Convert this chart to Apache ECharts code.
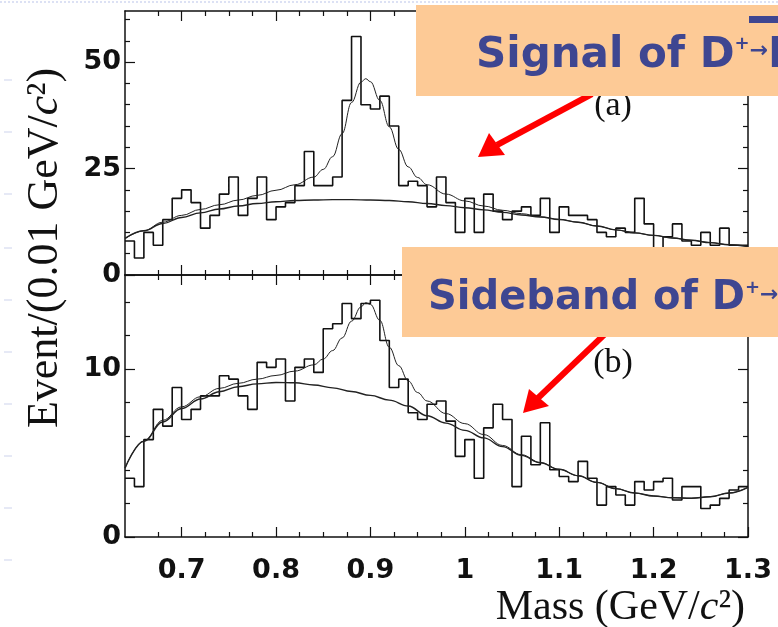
<!DOCTYPE html>
<html>
<head>
<meta charset="utf-8">
<script src="https://cdn.jsdelivr.net/npm/echarts@6/dist/echarts.min.js"></script>
<style>
  html, body { margin: 0; padding: 0; background: #fff; }
  #chart { width: 778px; height: 627px; }
</style>
</head>
<body>
<div id="chart"></div>
<script>
// mass bins of 0.01 GeV/c^2 from 0.64 to 1.30
const massMin = 0.64
const massMax = 1.30
const binWidth = 0.01

// (a) signal region, events per bin
const signalCounts = [
  8, 4, 10, 7, 13, 18, 20, 17, 11, 14,
  19, 23, 14, 18, 23, 13, 16, 17, 21, 29,
  21, 21, 23, 41, 56, 40, 39, 42, 35, 21,
  22, 21, 16, 23, 17, 10, 18, 10, 19, 15,
  13, 15, 16, 14, 18, 10, 16, 14, 14, 13,
  10, 9, 11, 10, 18, 12, 5, 9, 12, 8,
  7, 10, 7, 11, 7, 7
]

// (b) sideband, scaled events per bin
const sidebandCounts = [
  3.5, 3.0, 5.8, 7.6, 6.6, 8.9, 7.0, 7.6, 8.4, 8.4,
  9.6, 9.4, 8.4, 7.6, 10.4, 10.1, 10.6, 8.1, 10.1, 10.6,
  9.8, 12.4, 12.7, 13.9, 13.0, 13.9, 14.1, 11.7, 8.9, 9.4,
  7.4, 7.0, 7.9, 8.1, 6.9, 4.8, 5.8, 3.5, 6.5, 7.9,
  7.0, 3.0, 6.0, 4.3, 6.8, 4.0, 3.6, 3.3, 4.5, 3.5,
  1.9, 3.0, 2.5, 1.9, 3.3, 2.8, 3.3, 3.5, 2.2, 3.0,
  3.0, 1.7, 1.9, 2.3, 2.8, 3.0
]

// fit curves: [mass, value]
const signalFitTotal = [
  [0.64, 8.5], [0.66, 10.4], [0.68, 12.4], [0.70, 14.0], [0.72, 15.4], [0.74, 16.5],
  [0.76, 17.6], [0.78, 18.7], [0.80, 19.9], [0.82, 21.2], [0.84, 23.0], [0.85, 24.8],
  [0.86, 27.8], [0.87, 33.2], [0.88, 40.5], [0.89, 45.3], [0.895, 46.1], [0.90, 45.4],
  [0.91, 41.0], [0.92, 34.8], [0.93, 29.5], [0.94, 25.4], [0.95, 22.9], [0.96, 21.2],
  [0.98, 19.0], [1.00, 17.4], [1.02, 16.2], [1.04, 15.2], [1.06, 14.4], [1.08, 13.7],
  [1.10, 13.1], [1.12, 12.4], [1.14, 11.5], [1.16, 10.6], [1.18, 9.9], [1.20, 9.3],
  [1.22, 8.7], [1.24, 8.15], [1.26, 7.6], [1.28, 7.1], [1.30, 6.7]
]
const signalFitBkg = [
  [0.64, 8.6], [0.66, 10.4], [0.68, 12.1], [0.70, 13.5], [0.72, 14.6], [0.74, 15.5],
  [0.76, 16.2], [0.78, 16.8], [0.80, 17.2], [0.82, 17.5], [0.84, 17.6], [0.86, 17.7],
  [0.88, 17.7], [0.90, 17.6], [0.92, 17.5], [0.94, 17.2], [0.96, 16.8], [0.98, 16.3],
  [1.00, 15.8], [1.02, 15.3], [1.04, 14.7], [1.06, 14.1], [1.08, 13.6], [1.10, 13.0],
  [1.12, 12.4], [1.14, 11.5], [1.16, 10.6], [1.18, 9.9], [1.20, 9.3], [1.22, 8.7],
  [1.24, 8.15], [1.26, 7.6], [1.28, 7.1], [1.30, 6.7]
]
const sidebandFitTotal = [
  [0.64, 4.1], [0.66, 5.7], [0.68, 6.95], [0.70, 7.75], [0.72, 8.35], [0.74, 8.85],
  [0.76, 9.15], [0.78, 9.4], [0.80, 9.62], [0.82, 9.88], [0.84, 10.25], [0.85, 10.6],
  [0.86, 11.1], [0.87, 11.85], [0.88, 12.85], [0.89, 13.7], [0.895, 13.95], [0.90, 13.85],
  [0.91, 12.9], [0.92, 11.3], [0.93, 10.2], [0.94, 9.3], [0.95, 8.6], [0.96, 8.1],
  [0.98, 7.35], [1.00, 6.75], [1.02, 6.1], [1.04, 5.45], [1.06, 4.9], [1.08, 4.43],
  [1.10, 4.03], [1.12, 3.65], [1.14, 3.25], [1.16, 2.88], [1.18, 2.62], [1.20, 2.44],
  [1.22, 2.34], [1.24, 2.31], [1.26, 2.4], [1.28, 2.62], [1.30, 2.96]
]
const sidebandFitBkg = [
  [0.64, 4.1], [0.66, 5.7], [0.68, 6.85], [0.70, 7.65], [0.72, 8.22], [0.74, 8.65],
  [0.76, 8.95], [0.78, 9.12], [0.80, 9.2], [0.82, 9.18], [0.84, 9.05], [0.86, 8.88],
  [0.88, 8.66], [0.90, 8.43], [0.92, 8.15], [0.94, 7.8], [0.96, 7.22], [0.98, 6.78],
  [1.00, 6.35], [1.02, 5.9], [1.04, 5.38], [1.06, 4.86], [1.08, 4.42], [1.10, 4.03],
  [1.12, 3.65], [1.14, 3.25], [1.16, 2.88], [1.18, 2.62], [1.20, 2.44], [1.22, 2.34],
  [1.24, 2.31], [1.26, 2.4], [1.28, 2.62], [1.30, 2.96]
]

const xMajorTicks = [0.7, 0.8, 0.9, 1.0, 1.1, 1.2, 1.3]
const xMinorTicks = [0.675, 0.725, 0.75, 0.775, 0.825, 0.85, 0.875, 0.925, 0.95, 0.975,
  1.025, 1.05, 1.075, 1.125, 1.15, 1.175, 1.225, 1.25, 1.275]
const topMax = 62
const topMajorTicks = [0, 25, 50]
const topMinorTicks = [5, 10, 15, 20, 30, 35, 40, 45, 55, 60]
const bottomMax = 15.6
const bottomMajorTicks = [0, 10]
const bottomMinorTicks = [2, 4, 6, 8, 12, 14]

const ink = '#111'
const tickFont = { fontFamily: 'DejaVu Sans', fontSize: 27, fontWeight: 'bold', color: '#111' }

function histPoints(counts) {
  const pts = counts.map((v, i) => [+(massMin + i * binWidth).toFixed(2), v])
  pts.push([massMax, counts[counts.length - 1]])
  return pts
}

function xAx(grid, position, ticks, len, labels) {
  return {
    type: 'value', gridIndex: grid, position, min: massMin, max: massMax,
    axisLine: { show: len > 6, onZero: false, lineStyle: { color: ink, width: 1.5 } },
    axisTick: { show: true, inside: true, length: len, customValues: ticks, lineStyle: { color: ink, width: 1.2 } },
    axisLabel: labels ? Object.assign({ show: true, customValues: labels, margin: 20 }, tickFont) : { show: false },
    splitLine: { show: false },
  }
}

function yAx(grid, position, max, ticks, len, labels) {
  return {
    type: 'value', gridIndex: grid, position, min: 0, max,
    axisLine: { show: len > 6, onZero: false, lineStyle: { color: ink, width: 1.5 } },
    axisTick: { show: true, inside: true, length: len, customValues: ticks, lineStyle: { color: ink, width: 1.2 } },
    axisLabel: labels ? Object.assign({ show: true, customValues: labels, margin: 4 }, tickFont) : { show: false },
    splitLine: { show: false },
  }
}

function curve(data, xi, yi, width) {
  return {
    type: 'line', xAxisIndex: xi, yAxisIndex: yi, data, symbol: 'none',
    smooth: 0.4, smoothMonotone: 'x', silent: true,
    lineStyle: { color: '#222', width },
  }
}

function hist(counts, xi, yi) {
  return {
    type: 'line', xAxisIndex: xi, yAxisIndex: yi, data: histPoints(counts), step: 'end',
    symbol: 'none', silent: true, lineStyle: { color: ink, width: 1.6 },
  }
}

const serif = 'Liberation Serif'
const boxBlue = '#3E4691'
const peach = '#FDCA96'

function boxRich(size) {
  return {
    a: { fontFamily: 'DejaVu Sans', fontWeight: 'bold', fontSize: size, fill: boxBlue },
    s: { fontFamily: 'DejaVu Sans', fontWeight: 'bold', fontSize: 18, fill: boxBlue, verticalAlign: 'top' },
    r: { fontFamily: 'DejaVu Sans', fontWeight: 'bold', fontSize: 22, fill: boxBlue, verticalAlign: 'top', padding: [5, 0, 0, 0] },
  }
}

// faint slide-template dashes down the left margin
const marginDashes = [80, 132, 194, 248, 300, 352, 404, 456, 508, 560].map(y => ({
  type: 'line', z: 1, shape: { x1: 4, y1: y, x2: 12, y2: y }, style: { stroke: '#cdd3ec', lineWidth: 1 },
}))

let myChart = echarts.init(document.getElementById('chart'))
myChart.setOption({
  animation: false,
  backgroundColor: '#fff',
  grid: [
    { left: 125, right: 30, top: 11, height: 264 },
    { left: 125, right: 30, top: 275, height: 262 },
  ],
  xAxis: [
    xAx(0, 'bottom', xMajorTicks, 10),
    xAx(0, 'bottom', xMinorTicks, 5),
    xAx(0, 'top', xMajorTicks, 10),
    xAx(0, 'top', xMinorTicks, 5),
    xAx(1, 'bottom', xMajorTicks, 10, xMajorTicks),
    xAx(1, 'bottom', xMinorTicks, 5),
    xAx(1, 'top', xMajorTicks, 10),
    xAx(1, 'top', xMinorTicks, 5),
  ],
  yAxis: [
    yAx(0, 'left', topMax, topMajorTicks, 10, topMajorTicks),
    yAx(0, 'left', topMax, topMinorTicks, 5),
    yAx(0, 'right', topMax, topMajorTicks, 10),
    yAx(0, 'right', topMax, topMinorTicks, 5),
    yAx(1, 'left', bottomMax, bottomMajorTicks, 10, bottomMajorTicks),
    yAx(1, 'left', bottomMax, bottomMinorTicks, 5),
    yAx(1, 'right', bottomMax, bottomMajorTicks, 10),
    yAx(1, 'right', bottomMax, bottomMinorTicks, 5),
  ],
  series: [
    hist(signalCounts, 0, 0),
    curve(signalFitBkg, 0, 0, 1.4),
    curve(signalFitTotal, 0, 0, 1),
    hist(sidebandCounts, 4, 4),
    curve(sidebandFitBkg, 4, 4, 1.4),
    curve(sidebandFitTotal, 4, 4, 1),
  ],
  graphic: marginDashes.concat([
    // faint dotted slide line at the top
    { type: 'line', z: 1, shape: { x1: 0, y1: 2, x2: 778, y2: 2 }, style: { stroke: '#b9c3ea', lineWidth: 1, lineDash: [2, 2] } },
    // axis titles
    {
      type: 'text', x: 45, y: 248, rotation: Math.PI / 2, z: 10,
      style: {
        text: '{n|Event/(0.01 GeV/}{i|c}{n|²)}', align: 'center', verticalAlign: 'middle',
        rich: { n: { fontFamily: serif, fontSize: 44, fill: '#111' }, i: { fontFamily: serif, fontSize: 44, fontStyle: 'italic', fill: '#111' } },
      },
    },
    {
      type: 'text', x: 745, y: 608, z: 10,
      style: {
        text: '{n|Mass (GeV/}{i|c}{n|²)}', align: 'right', verticalAlign: 'middle',
        rich: { n: { fontFamily: serif, fontSize: 42, fill: '#111' }, i: { fontFamily: serif, fontSize: 42, fontStyle: 'italic', fill: '#111' } },
      },
    },
    // panel tags
    { type: 'text', x: 613, y: 106, z: 20, style: { text: '(a)', fontFamily: serif, fontSize: 34, fill: '#111', align: 'center', verticalAlign: 'middle' } },
    { type: 'text', x: 613, y: 363, z: 20, style: { text: '(b)', fontFamily: serif, fontSize: 34, fill: '#111', align: 'center', verticalAlign: 'middle' } },
    // red arrows
    { type: 'line', z: 30, shape: { x1: 592, y1: 94, x2: 497, y2: 145 }, style: { stroke: '#ff0000', lineWidth: 6 } },
    { type: 'polygon', z: 30, shape: { points: [[478, 157], [489, 133], [505, 155]] }, style: { fill: '#ff0000' } },
    { type: 'line', z: 30, shape: { x1: 606, y1: 333, x2: 538, y2: 398 }, style: { stroke: '#ff0000', lineWidth: 6 } },
    { type: 'polygon', z: 30, shape: { points: [[523, 413], [529, 389], [549, 406]] }, style: { fill: '#ff0000' } },
    // callout boxes
    { type: 'rect', z: 40, shape: { x: 416, y: 5, width: 362, height: 91 }, style: { fill: peach } },
    {
      type: 'text', x: 476, y: 56, z: 41,
      style: { text: '{a|Signal of D}{s|+}{r|→}{a|K}', verticalAlign: 'middle', rich: boxRich(42) },
    },
    { type: 'rect', z: 41, shape: { x: 749, y: 16, width: 29, height: 7 }, style: { fill: boxBlue } },
    { type: 'rect', z: 40, shape: { x: 402, y: 247, width: 376, height: 90 }, style: { fill: peach } },
    {
      type: 'text', x: 428, y: 299, z: 41,
      style: { text: '{a|Sideband of D}{s|+}{r|→}', verticalAlign: 'middle', rich: boxRich(40) },
    },
  ]),
})
</script>
</body>
</html>
